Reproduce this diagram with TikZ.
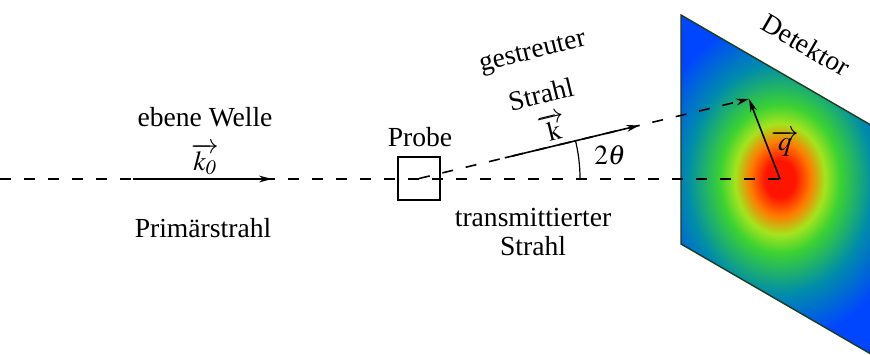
\documentclass[tikz,border=0pt]{standalone}
\usepackage{mathptmx}
\usepackage{fontspec}
\setmainfont{Liberation Serif}
\usetikzlibrary{arrows.meta, calc, positioning}
\definecolor{spotRed}{HTML}{FF1400}
\definecolor{spotOrange}{HTML}{FF7A00}
\definecolor{spotLime}{HTML}{A4E41E}
\definecolor{spotGreen}{HTML}{3CD232}
\definecolor{spotTeal}{HTML}{008CAA}
\definecolor{spotBlue}{HTML}{0046FF}
\definecolor{edgeGreen}{HTML}{1E3C1E}
% the inner 25bp of the shading are stretched onto the shaded rectangle
\pgfdeclareradialshading{detspot}{\pgfpoint{0bp}{0bp}}{%
  color(0bp)=(spotRed); color(2.5bp)=(spotRed); color(5bp)=(spotOrange);
  color(7.5bp)=(spotLime); color(10bp)=(spotGreen); color(15.5bp)=(spotTeal);
  color(22bp)=(spotBlue); color(50bp)=(spotBlue)}
\tikzset{
  beam/.style={dash pattern=on 5.5pt off 6.5pt, line width=0.8pt},
  wavevec/.style={-{Stealth[length=6.5pt, width=3.4pt]}, line width=0.8pt},
  probebox/.style={draw, line width=0.6pt, minimum width=21pt, minimum height=21.5pt, inner sep=0pt},
  detedge/.style={draw=edgeGreen, line width=0.7pt},
}

\begin{document}
\begin{tikzpicture}[x=0.5pt, y=0.5pt, font=\fontsize{13.8}{16}\selectfont]
  \useasboundingbox (0,0) rectangle (870,354);

  % detector plane with the scattering spot
  \coordinate (dTL) at (681,339);
  \coordinate (dBL) at (681,110);
  \coordinate (dTR) at (876,226);
  \coordinate (dBR) at (876,-3);
  \begin{scope}
    \clip (dBL) -- (dTL) -- (dTR) -- (dBR) -- cycle;
    \shade[shading=detspot] (630,-10) rectangle (930,360);
  \end{scope}
  \draw[detedge] (dBR) -- (dBL) -- (dTL) -- (dTR);
  \node[rotate=-30.2] (detlbl) at (806,309) {Detektor};

  % primary beam and sample
  \coordinate (src) at (0,175);
  \coordinate (spot) at (780,175);
  \coordinate (hit) at (749,255);
  \node[probebox] (probe) at (419,175.5) {};
  \node (probelbl) at (420,217) {Probe};
  \draw[beam] (src) -- (spot);

  \coordinate (k0a) at (133,175);
  \coordinate (k0b) at (272,175);
  \draw[wavevec] (k0a) -- (k0b);
  \node (k0lbl) at (205,195) {$\overrightarrow{k_{\mathit{0}}}$};
  \node (wave) at (205,237) {ebene Welle};
  \node (primary) at (203,126) {Primärstrahl};

  % scattered beam
  \draw[beam, -{Stealth[length=6.5pt, width=3.4pt]}] (probe.center) -- (hit);
  \draw[wavevec] ($(probe.center)!0.26!(hit)$) -- ($(probe.center)!0.668!(hit)$);
  \draw[line width=0.6pt] ($(probe.center)+(161,0)$) arc[start angle=0, end angle=13.75, radius=80.5pt];
  \node (angle) at (610,199) {$2\theta$};
  \node[rotate=13.75] (klbl) at (553,227) {$\overrightarrow{\mathrm{k}}$};
  \node[rotate=13.75] (scat1) at (533,300) {gestreuter};
  \node[rotate=13.75] (scat2) at (541,260) {Strahl};
  \node (trans1) at (533,137) {transmittierter};
  \node (trans2) at (533,108) {Strahl};

  % scattering vector
  \draw[wavevec] (spot) -- (hit);
  \node (qlbl) at (785,211) {$\overrightarrow{q}$};
\end{tikzpicture}
\end{document}
